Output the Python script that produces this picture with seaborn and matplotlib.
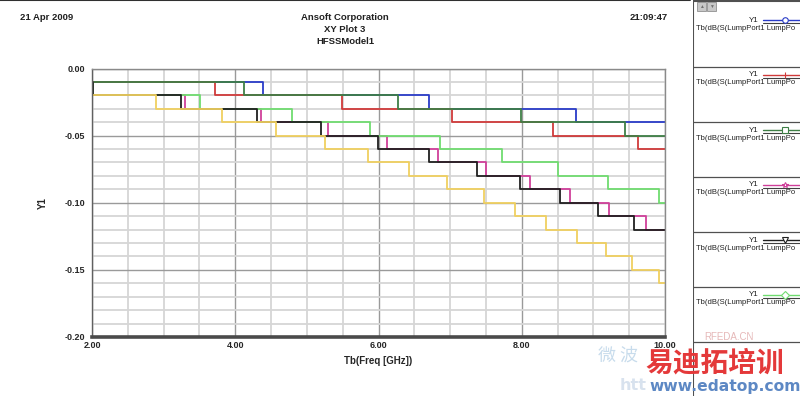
import matplotlib
matplotlib.use('Agg')
import pandas as pd
import matplotlib.pyplot as plt
import seaborn as sns
from matplotlib.ticker import MultipleLocator, FormatStrFormatter

sns.set_style('white')
plt.rcParams['font.family'] = ['Liberation Sans', 'Noto Sans CJK SC', 'DejaVu Sans']

# Step traces: frequency where each trace steps down (GHz) and its level (Y1)
blue_x = [2.00, 4.39, 6.71, 8.76, 10.00]
blue_y = [-0.01, -0.02, -0.03, -0.04, -0.04]

red_x = [2.00, 3.72, 5.49, 7.03, 8.43, 9.62, 10.00]
red_y = [-0.01, -0.02, -0.03, -0.04, -0.05, -0.06, -0.06]

dkgreen_x = [2.00, 4.12, 6.27, 7.99, 9.44, 10.00]
dkgreen_y = [-0.01, -0.02, -0.03, -0.04, -0.05, -0.05]

magenta_x = [2.00, 2.01, 3.30, 4.36, 5.29, 6.12, 6.83, 7.50, 8.11, 8.67, 9.22, 9.73, 10.00]
magenta_y = [-0.01, -0.02, -0.03, -0.04, -0.05, -0.06, -0.07, -0.08, -0.09, -0.10, -0.11, -0.12, -0.12]

black_x = [2.00, 2.01, 3.24, 4.30, 5.20, 5.99, 6.71, 7.37, 7.98, 8.54, 9.07, 9.57, 10.00]
black_y = [-0.01, -0.02, -0.03, -0.04, -0.05, -0.06, -0.07, -0.08, -0.09, -0.10, -0.11, -0.12, -0.12]

green_x = [2.00, 2.01, 3.51, 4.79, 5.88, 6.86, 7.72, 8.50, 9.21, 9.92, 10.00]
green_y = [-0.01, -0.02, -0.03, -0.04, -0.05, -0.06, -0.07, -0.08, -0.09, -0.10, -0.10]

yellow_x = [2.00, 2.89, 3.81, 4.57, 5.25, 5.86, 6.43, 6.95, 7.47, 7.90, 8.34, 8.77, 9.17, 9.54, 9.92, 10.00]
yellow_y = [-0.02, -0.03, -0.04, -0.05, -0.06, -0.07, -0.08, -0.09, -0.10, -0.11, -0.12, -0.13, -0.14, -0.15, -0.16, -0.16]

# legend text as far as the panel shows it
legend_label = 'Tb(dB(S(LumpPort1 LumpPo'

traces = {
    'blue': (blue_x, blue_y),
    'red': (red_x, red_y),
    'dkgreen': (dkgreen_x, dkgreen_y),
    'magenta': (magenta_x, magenta_y),
    'green': (green_x, green_y),
    'black': (black_x, black_y),
    'yellow': (yellow_x, yellow_y),
}
colors = {
    'blue': '#2a3cc8', 'red': '#d03a3a', 'dkgreen': '#3f7f46',
    'magenta': '#d0409a', 'green': '#70dc70', 'black': '#202020',
    'yellow': '#f0d060',
}

rows = []
for name, (xs, ys) in traces.items():
    for x, y in zip(xs, ys):
        rows.append({'trace': name, 'freq': x, 'y1': y})
df = pd.DataFrame(rows)

fig = plt.figure(figsize=(8, 3.96), dpi=100)
ax = fig.add_axes([92 / 800, 1 - 337 / 396, 573 / 800, 268.5 / 396])

sns.lineplot(data=df, x='freq', y='y1', hue='trace', hue_order=list(traces.keys()),
             palette=colors, estimator=None, drawstyle='steps-post', lw=1.3,
             legend=False, ax=ax)

ax.set_xlim(2, 10)
ax.set_ylim(-0.20, 0.0)
ax.xaxis.set_major_locator(MultipleLocator(2))
ax.xaxis.set_minor_locator(MultipleLocator(0.5))
ax.yaxis.set_major_locator(MultipleLocator(0.05))
ax.yaxis.set_minor_locator(MultipleLocator(0.01))
ax.xaxis.set_major_formatter(FormatStrFormatter('%.2f'))
ax.yaxis.set_major_formatter(FormatStrFormatter('%.2f'))
ax.grid(which='minor', color='#d6d6d6', lw=1.3)
ax.grid(which='major', color='#9a9a9a', lw=1.0)
ax.set_axisbelow(True)
ax.tick_params(axis='y', which='both', direction='out', length=3, width=0.8,
               color='#404040', labelsize=6.5, pad=2)
ax.tick_params(axis='x', which='both', direction='in', length=2, width=0.8,
               color='#404040', labelsize=6.5, pad=3)
for lab in ax.get_xticklabels() + ax.get_yticklabels():
    lab.set_fontweight('bold')
for side, lw, c in [('bottom', 2.6, '#4a4a4a'), ('left', 1.0, '#606060'),
                    ('top', 1.0, '#8a8a8a'), ('right', 1.0, '#8a8a8a')]:
    ax.spines[side].set_linewidth(lw)
    ax.spines[side].set_color(c)
ax.set_xlabel('Tb(Freq [GHz])', fontsize=7, fontweight='bold', labelpad=4)
ax.set_ylabel('Y1', fontsize=7, fontweight='bold', labelpad=12)

# header
hdr = dict(fontsize=6.8, fontweight='bold', color='#202020', va='center')
fig.text(20 / 800, 1 - 18 / 396, '21 Apr 2009', ha='left', **hdr)
fig.text(345 / 800, 1 - 18 / 396, 'Ansoft Corporation', ha='center', **hdr)
fig.text(345 / 800, 1 - 30 / 396, 'XY Plot 3', ha='center', **hdr)
fig.text(345 / 800, 1 - 42 / 396, 'HFSSModel1', ha='center', **hdr)
fig.text(668 / 800, 1 - 18 / 396, '21:09:47', ha='right', **hdr)
fig.add_artist(plt.Line2D([0, 690 / 800], [0.999, 0.999], color='#303030', lw=1.5))

# legend panel on the right (pixel coordinates)
lg = fig.add_axes([693 / 800, 0, 107 / 800, 1])
lg.set_xlim(693, 800)
lg.set_ylim(396, 0)
lg.axis('off')
lg.axvline(693.5, color='#505050', lw=1.5)
lg.axhline(0.5, color='#505050', lw=1.5)
lg.add_patch(plt.Rectangle((697, 2), 9, 9, fc='#c8c8c8', ec='#909090', lw=0.6))
lg.add_patch(plt.Rectangle((707, 2), 9, 9, fc='#c8c8c8', ec='#909090', lw=0.6))
lg.text(701.5, 6.5, '▲', fontsize=3.5, ha='center', va='center', color='#707070')
lg.text(711.5, 6.5, '▼', fontsize=3.5, ha='center', va='center', color='#707070')
legend_entries = [('blue', 'o'), ('red', '|'), ('dkgreen', 's'),
                  ('magenta', '*'), ('black', 'v'), ('green', 'D')]
for i, (name, mk) in enumerate(legend_entries):
    y0 = 20 + 55 * i
    lg.text(759, y0, 'Y1', fontsize=5.8, ha='right', va='center', color='#202020')
    lg.plot([763, 800], [y0, y0], color=colors[name], lw=1.0)
    lg.plot([763, 800], [y0 + 3, y0 + 3], color='#404040', lw=0.8)
    lg.plot([785], [y0], marker=mk, ms=4, mfc='white', mec=colors[name], mew=0.8)
    lg.text(696, y0 + 8, legend_label, fontsize=5.5, ha='left',
            va='center', color='#202020')
    lg.axhline(y0 + 47, xmin=0, xmax=1, color='#505050', lw=0.9)

# watermark
fig.text(598 / 800, 1 - 356 / 396, '微 波', fontsize=13, color='#c8dcec', va='center',
         family=['Noto Sans CJK SC'])
fig.text(704 / 800, 1 - 337 / 396, 'RFEDA.CN', fontsize=7, color='#e6b8b8', va='center')
fig.text(645 / 800, 1 - 364 / 396, '易迪拓培训', fontsize=20, fontweight='bold',
         color='#e4393a', va='center', family=['Noto Sans CJK SC'])
fig.text(620 / 800, 1 - 386 / 396, 'htt', fontsize=11.5, fontweight='bold',
         color='#d8e2ee', va='center', family=['DejaVu Sans'])
fig.text(649 / 800, 1 - 386 / 396, 'www.edatop.com', fontsize=11.2, fontweight='bold',
         color='#5d88c4', va='center', family=['DejaVu Sans'])

fig.savefig('out.png', dpi=100, facecolor='white')
